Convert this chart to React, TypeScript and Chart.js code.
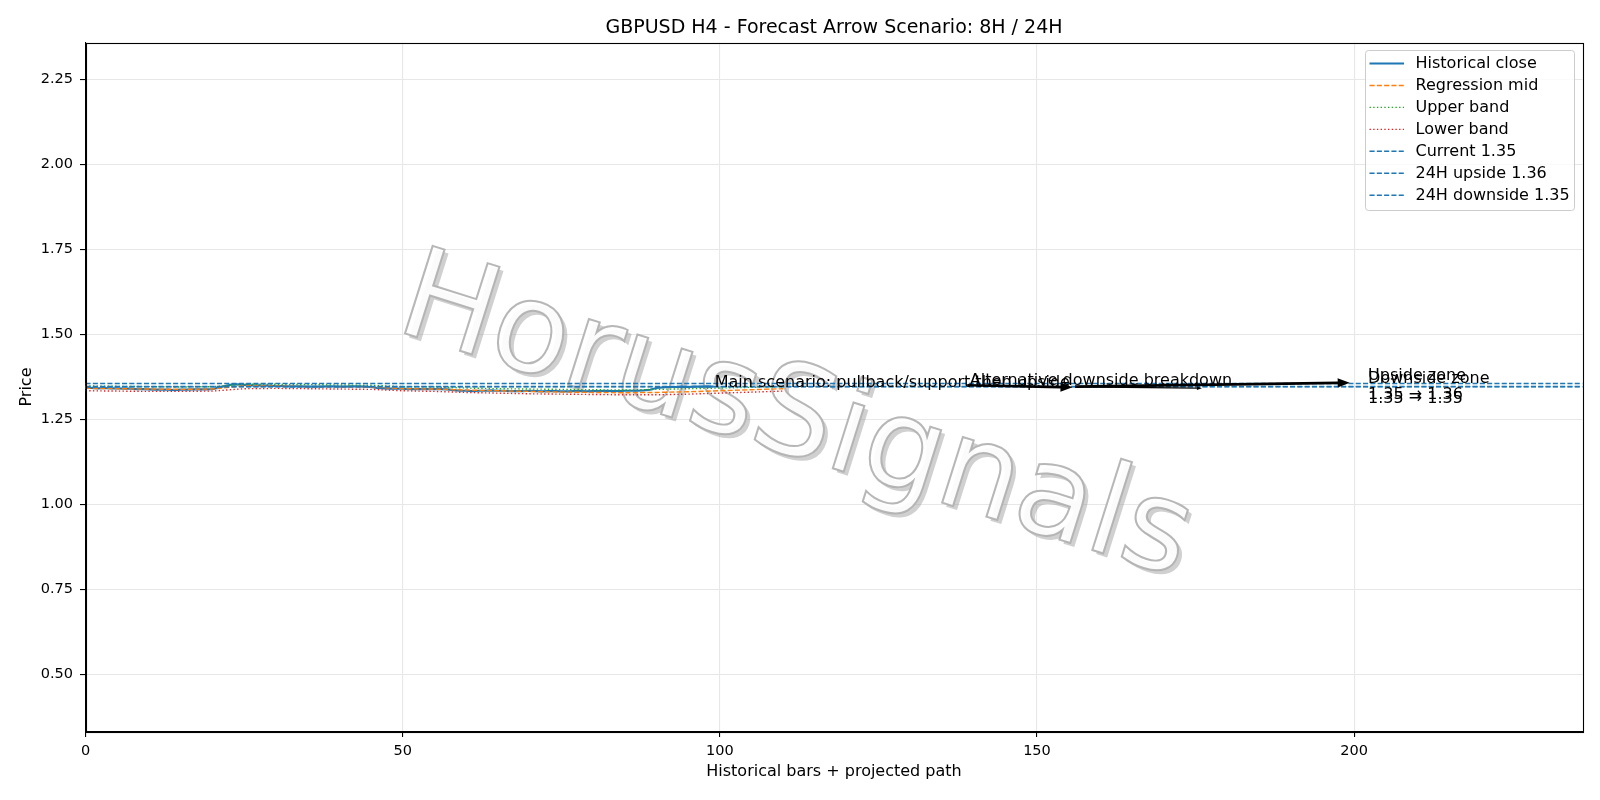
import React, { useEffect, useRef } from 'react';
import { Chart, registerables } from 'chart.js';

Chart.register(...registerables);

const FONT = '"DejaVu Sans", "Liberation Sans", sans-serif';

// ---- data ----
const histClose = [
  1.342, 1.342, 1.341, 1.342, 1.341, 1.341, 1.340, 1.340, 1.339, 1.339, 1.338,
  1.337, 1.337, 1.337, 1.336, 1.337, 1.337, 1.338, 1.338, 1.338, 1.339,
  1.343, 1.348, 1.352, 1.353, 1.351,
  1.350, 1.350, 1.349, 1.349, 1.348, 1.348, 1.347, 1.347, 1.347, 1.346,
  1.346, 1.346, 1.347, 1.347, 1.346, 1.346, 1.347, 1.347, 1.346, 1.345,
  1.342, 1.341, 1.340, 1.340, 1.340, 1.339, 1.339, 1.339, 1.339, 1.339, 1.339, 1.338, 1.336,
  1.334, 1.334, 1.333, 1.334, 1.334, 1.335, 1.334, 1.334, 1.333, 1.333, 1.333,
  1.334, 1.333, 1.332, 1.333, 1.333, 1.332, 1.332, 1.333, 1.333, 1.332, 1.333,
  1.333, 1.334, 1.333, 1.333, 1.334, 1.334, 1.334, 1.335, 1.337,
  1.342, 1.344, 1.345, 1.345, 1.346, 1.345, 1.346, 1.346, 1.347, 1.346,
];

const bandX = [0, 5, 10, 15, 20, 25, 30, 35, 40, 45, 50, 55, 60, 65, 70, 75, 80, 85, 90, 95, 100, 105, 110];
const regMid = [1.341, 1.340, 1.339, 1.338, 1.339, 1.349, 1.348, 1.346, 1.346, 1.345, 1.340, 1.339, 1.336, 1.334, 1.332, 1.330, 1.329, 1.328, 1.329, 1.331, 1.334, 1.337, 1.340];
const upperBand = [1.348, 1.347, 1.346, 1.345, 1.346, 1.353, 1.353, 1.352, 1.351, 1.350, 1.346, 1.345, 1.342, 1.340, 1.339, 1.338, 1.337, 1.336, 1.338, 1.340, 1.342, 1.344, 1.346];
const lowerBand = [1.334, 1.333, 1.332, 1.332, 1.333, 1.340, 1.341, 1.340, 1.339, 1.338, 1.334, 1.332, 1.329, 1.327, 1.325, 1.324, 1.323, 1.322, 1.322, 1.324, 1.327, 1.330, 1.333];

const levelNames = ['Current 1.35', '24H upside 1.36', '24H downside 1.35'];
const levelValues = [1.3465, 1.3555, 1.3455];

const xLimits = [0, 236];
const yLimits = [0.332, 2.358];
const xTicks = [0, 50, 100, 150, 200];
const yTicks = [0.5, 0.75, 1.0, 1.25, 1.5, 1.75, 2.0, 2.25];

// projected path arrows (data coords)
const arrowFromX = [139, 156, 156];
const arrowFromY = [1.3500, 1.3462, 1.3452];
const arrowToX = [155.6, 199.3, 176];
const arrowToY = [1.3440, 1.3575, 1.3415];

const annoTexts = ['Main scenario: pullback/support then upside', 'Alternative downside breakdown'];
const annoX = [99.2, 139.4];
const annoY = [1.3445, 1.3505];

const zoneLines = [['Upside zone', '1.35 → 1.36'], ['Downside zone', '1.35 → 1.35']];
const zoneX = [202.2, 202.2];
const zoneY = [1.356, 1.3455];

const TITLE = 'GBPUSD H4 - Forecast Arrow Scenario: 8H / 24H';
const X_TITLE = 'Historical bars + projected path';
const Y_TITLE = 'Price';
const WATERMARK = 'HorusSignals';

// ---- styles ----
const C_BLUE = '#1f77b4';
const C_ORANGE = '#ff7f0e';
const C_GREEN = '#2ca02c';
const C_RED = '#d62728';
const DASH = [5.1, 2.2];
const DOT = [1.4, 2.3];
const ARROW_LW = [2.6, 2.6, 1.2];
const ARROW_HEAD = [12, 12, 5];
const TICK_PX = 14.5;
const TEXT_PX = 16;
const TITLE_PX = 19;

const legendItems = [
  { label: 'Historical close', color: C_BLUE, dash: [] as number[], lw: 2.1 },
  { label: 'Regression mid', color: C_ORANGE, dash: DASH, lw: 1.4 },
  { label: 'Upper band', color: C_GREEN, dash: DOT, lw: 1.4 },
  { label: 'Lower band', color: C_RED, dash: DOT, lw: 1.4 },
  { label: levelNames[0], color: C_BLUE, dash: DASH, lw: 1.4 },
  { label: levelNames[1], color: C_BLUE, dash: DASH, lw: 1.4 },
  { label: levelNames[2], color: C_BLUE, dash: DASH, lw: 1.4 },
];

function drawArrow(ctx: CanvasRenderingContext2D, x1: number, y1: number, x2: number, y2: number, lw: number, hl: number) {
  const ang = Math.atan2(y2 - y1, x2 - x1);
  const hw = hl * 0.38;
  const bx = x2 - hl * Math.cos(ang);
  const by = y2 - hl * Math.sin(ang);
  ctx.save();
  ctx.strokeStyle = '#000';
  ctx.fillStyle = '#000';
  ctx.lineWidth = lw;
  ctx.setLineDash([]);
  ctx.beginPath();
  ctx.moveTo(x1, y1);
  ctx.lineTo(bx + Math.cos(ang) * 1, by + Math.sin(ang) * 1);
  ctx.stroke();
  ctx.beginPath();
  ctx.moveTo(x2, y2);
  ctx.lineTo(bx + hw * Math.sin(ang), by - hw * Math.cos(ang));
  ctx.lineTo(bx - hw * Math.sin(ang), by + hw * Math.cos(ang));
  ctx.closePath();
  ctx.fill();
  ctx.restore();
}

const decorPlugin = {
  id: 'decor',
  beforeDatasetsDraw(chart: any) {
    const ctx: CanvasRenderingContext2D = chart.ctx;
    // watermark
    ctx.save();
    ctx.font = `126px ${FONT}`;
    ctx.textAlign = 'center';
    ctx.textBaseline = 'middle';
    const ang = (17.5 * Math.PI) / 180;
    const cx = 795, cy = 422;
    ctx.save();
    ctx.translate(cx + 4, cy + 4);
    ctx.rotate(ang);
    ctx.fillStyle = 'rgba(150,150,150,0.45)';
    ctx.fillText(WATERMARK, 0, 0);
    ctx.restore();
    ctx.translate(cx, cy);
    ctx.rotate(ang);
    ctx.fillStyle = 'rgba(255,255,255,0.92)';
    ctx.fillText(WATERMARK, 0, 0);
    ctx.strokeStyle = 'rgba(175,175,175,0.9)';
    ctx.lineWidth = 2;
    ctx.strokeText(WATERMARK, 0, 0);
    ctx.restore();
  },
  afterDatasetsDraw(chart: any) {
    const ctx: CanvasRenderingContext2D = chart.ctx;
    const xs = chart.scales.x;
    const ys = chart.scales.y;
    const area = chart.chartArea;

    ctx.save();
    ctx.beginPath();
    ctx.rect(area.left, area.top, area.right - area.left, area.bottom - area.top);
    ctx.clip();
    // arrows
    for (let i = 0; i < arrowFromX.length; i++) {
      drawArrow(
        ctx,
        xs.getPixelForValue(arrowFromX[i]),
        ys.getPixelForValue(arrowFromY[i]),
        xs.getPixelForValue(arrowToX[i]),
        ys.getPixelForValue(arrowToY[i]),
        ARROW_LW[i],
        ARROW_HEAD[i]
      );
    }
    // annotation texts
    ctx.fillStyle = '#000';
    ctx.font = `${TEXT_PX}px ${FONT}`;
    ctx.textAlign = 'left';
    ctx.textBaseline = 'alphabetic';
    for (let i = 0; i < annoTexts.length; i++) {
      ctx.fillText(annoTexts[i], xs.getPixelForValue(annoX[i]), ys.getPixelForValue(annoY[i]));
    }
    for (let i = 0; i < zoneLines.length; i++) {
      const px = xs.getPixelForValue(zoneX[i]);
      const py = ys.getPixelForValue(zoneY[i]);
      ctx.fillText(zoneLines[i][0], px, py - 3.5);
      ctx.fillText(zoneLines[i][1], px, py + 15.8);
    }
    ctx.restore();

    // legend
    ctx.save();
    const lx = 1365.5, ly = 50.5, lw = 209, lh = 160;
    const r = 3;
    ctx.beginPath();
    ctx.moveTo(lx + r, ly);
    ctx.lineTo(lx + lw - r, ly);
    ctx.arcTo(lx + lw, ly, lx + lw, ly + r, r);
    ctx.lineTo(lx + lw, ly + lh - r);
    ctx.arcTo(lx + lw, ly + lh, lx + lw - r, ly + lh, r);
    ctx.lineTo(lx + r, ly + lh);
    ctx.arcTo(lx, ly + lh, lx, ly + lh - r, r);
    ctx.lineTo(lx, ly + r);
    ctx.arcTo(lx, ly, lx + r, ly, r);
    ctx.closePath();
    ctx.fillStyle = 'rgba(255,255,255,0.8)';
    ctx.fill();
    ctx.strokeStyle = '#cccccc';
    ctx.lineWidth = 1;
    ctx.stroke();
    ctx.font = `${TEXT_PX}px ${FONT}`;
    ctx.textAlign = 'left';
    ctx.textBaseline = 'middle';
    legendItems.forEach((it, i) => {
      const y = 63.5 + i * 21.95;
      ctx.beginPath();
      ctx.setLineDash(it.dash);
      ctx.strokeStyle = it.color;
      ctx.lineWidth = it.lw;
      ctx.moveTo(1369.5, y);
      ctx.lineTo(1404, y);
      ctx.stroke();
      ctx.setLineDash([]);
      ctx.fillStyle = '#000';
      ctx.fillText(it.label, 1415.5, y + 0.5);
    });
    ctx.restore();
  },
  afterDraw(chart: any) {
    const ctx: CanvasRenderingContext2D = chart.ctx;
    const area = chart.chartArea;
    ctx.save();
    // frame
    ctx.strokeStyle = '#000';
    ctx.lineWidth = 1.1;
    ctx.setLineDash([]);
    ctx.strokeRect(Math.round(area.left) + 0.5, Math.round(area.top) + 0.5, Math.round(area.right - area.left), Math.round(area.bottom - area.top));
    // title
    const cx = (area.left + area.right) / 2;
    ctx.fillStyle = '#000';
    ctx.textAlign = 'center';
    ctx.textBaseline = 'alphabetic';
    ctx.font = `${TITLE_PX}px ${FONT}`;
    ctx.fillText(TITLE, cx, 32.5);
    // axis titles
    ctx.font = `${TEXT_PX}px ${FONT}`;
    ctx.textBaseline = 'middle';
    ctx.fillText(X_TITLE, cx, 772);
    ctx.save();
    ctx.translate(27, (area.top + area.bottom) / 2);
    ctx.rotate(-Math.PI / 2);
    ctx.fillText(Y_TITLE, 0, 0);
    ctx.restore();
    ctx.restore();
  },
};

export default function App() {
  const ref = useRef<HTMLCanvasElement | null>(null);

  useEffect(() => {
    document.body.style.margin = '0';
    const canvas = ref.current;
    if (!canvas) return;

    const levelDatasets = levelValues.map((v, i) => ({
      label: levelNames[i],
      data: [
        { x: xLimits[0], y: v },
        { x: xLimits[1], y: v },
      ],
      borderColor: C_BLUE,
      borderWidth: 1.4,
      borderDash: DASH,
      pointRadius: 0,
      order: 3 - i,
    }));

    const chart = new Chart(canvas, {
      type: 'line',
      data: {
        datasets: [
          {
            label: 'Historical close',
            data: histClose.map((v, i) => ({ x: i, y: v })),
            borderColor: C_BLUE,
            borderWidth: 2.2,
            pointRadius: 0,
            order: 7,
          },
          {
            label: 'Regression mid',
            data: regMid.map((v, i) => ({ x: bandX[i], y: v })),
            borderColor: C_ORANGE,
            borderWidth: 1.4,
            borderDash: DASH,
            pointRadius: 0,
            order: 6,
          },
          {
            label: 'Upper band',
            data: upperBand.map((v, i) => ({ x: bandX[i], y: v })),
            borderColor: C_GREEN,
            borderWidth: 1.4,
            borderDash: DOT,
            pointRadius: 0,
            order: 5,
          },
          {
            label: 'Lower band',
            data: lowerBand.map((v, i) => ({ x: bandX[i], y: v })),
            borderColor: C_RED,
            borderWidth: 1.4,
            borderDash: DOT,
            pointRadius: 0,
            order: 4,
          },
          ...levelDatasets,
        ] as any,
      },
      options: {
        animation: false,
        responsive: false,
        devicePixelRatio: 1,
        layout: { padding: { top: 42.5, right: 17.5, left: 0, bottom: 0 } },
        plugins: {
          legend: { display: false },
          title: { display: false },
          tooltip: { enabled: false },
        },
        elements: { point: { radius: 0 }, line: { tension: 0 } },
        scales: {
          x: {
            type: 'linear',
            min: xLimits[0],
            max: xLimits[1],
            afterBuildTicks: (s: any) => {
              s.ticks = xTicks.map((v) => ({ value: v }));
            },
            afterFit: (s: any) => {
              s.height = 68.5;
            },
            grid: { color: '#e7e7e7', lineWidth: 1.1, tickColor: '#000', tickLength: 5.5, tickWidth: 1.1 },
            border: { color: '#000', width: 1.1 },
            ticks: {
              font: { family: FONT, size: TICK_PX },
              color: '#000',
              padding: 6,
              maxRotation: 0,
              autoSkip: false,
              callback: (v: any) => String(v),
            },
          },
          y: {
            type: 'linear',
            min: yLimits[0],
            max: yLimits[1],
            afterBuildTicks: (s: any) => {
              s.ticks = yTicks.map((v) => ({ value: v }));
            },
            afterFit: (s: any) => {
              s.width = 85.5;
            },
            grid: { color: '#e7e7e7', lineWidth: 1.1, tickColor: '#000', tickLength: 5.5, tickWidth: 1.1 },
            border: { color: '#000', width: 1.1 },
            ticks: {
              font: { family: FONT, size: TICK_PX },
              color: '#000',
              padding: 7,
              autoSkip: false,
              callback: (v: any) => Number(v).toFixed(2),
            },
          },
        },
      } as any,
      plugins: [decorPlugin],
    });

    return () => {
      chart.destroy();
    };
  }, []);

  return (
    <div style={{ position: 'absolute', left: 0, top: 0, width: 1600, height: 800 }}>
      <canvas ref={ref} width={1600} height={800} style={{ display: 'block', width: 1600, height: 800 }} />
    </div>
  );
}
